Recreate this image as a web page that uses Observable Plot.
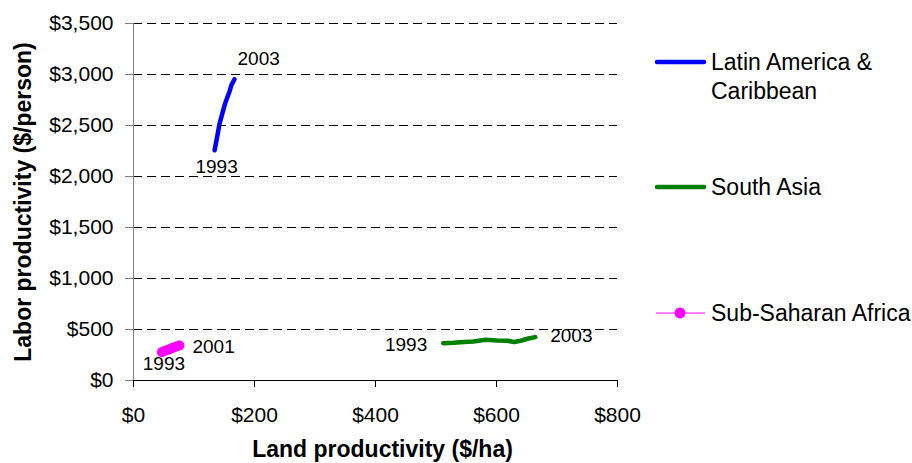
<!DOCTYPE html>
<html>
<head>
<meta charset="utf-8">
<script src="https://cdn.jsdelivr.net/npm/d3@7"></script>
<script src="https://cdn.jsdelivr.net/npm/@observablehq/plot@0.6"></script>
<style>
  body { margin: 0; background: #fff; }
  #wrap { position: relative; width: 912px; height: 463px; font-family: "Liberation Sans", Arial, sans-serif; }
  #legend { position: absolute; left: 0; top: 0; pointer-events: none; }
</style>
</head>
<body>
<div id="wrap"></div>
<script>
// ---- data ----
const seriesNames = ["Latin America & Caribbean", "South Asia", "Sub-Saharan Africa"];
const seriesColors = ["#0000ff", "#008000", "#ff00ff"];

const lacYears = [1993, 1994, 1995, 1996, 1997, 1998, 1999, 2000, 2001, 2002, 2003];
const lacLand  = [134, 137, 140, 142, 145, 148, 151, 155, 159, 162, 167];
const lacLabor = [2257, 2348, 2446, 2512, 2577, 2643, 2708, 2774, 2839, 2898, 2954];

const saYears = [1993, 1994, 1995, 1996, 1997, 1998, 1999, 2000, 2001, 2002, 2003];
const saLand  = [512, 529, 546, 562, 582, 601, 618, 629, 640, 651, 664];
const saLabor = [366, 370, 377, 383, 400, 393, 390, 377, 390, 409, 425];

const ssaYears = [1993, 1994, 1995, 1996, 1997, 1998, 1999, 2000, 2001];
const ssaLand  = [47, 50, 54, 57, 61, 64, 68, 72, 76];
const ssaLabor = [278, 286, 294, 301, 309, 318, 327, 336, 344];

const xTicks = [0, 200, 400, 600, 800];
const yTicks = [0, 500, 1000, 1500, 2000, 2500, 3000, 3500];
const xTitle = "Land productivity ($/ha)";
const yTitle = "Labor productivity ($/person)";

// ---- build tables ----
const toRows = (name, years, xs, ys) => years.map((yr, i) => ({series: name, year: yr, land: xs[i], labor: ys[i]}));
const lac = toRows(seriesNames[0], lacYears, lacLand, lacLabor);
const sa  = toRows(seriesNames[1], saYears, saLand, saLabor);
const ssa = toRows(seriesNames[2], ssaYears, ssaLand, ssaLabor);
const first = a => [a[0]];
const last = a => [a[a.length - 1]];

const money = d => "$" + d3.format(",")(d);
const FONT = "Liberation Sans, Arial, sans-serif";

const chart = Plot.plot({
  width: 912,
  height: 463,
  marginLeft: 133,
  marginRight: 295,
  marginTop: 23,
  marginBottom: 83,
  style: { fontFamily: FONT, fontSize: "21px", background: "#fff", color: "#000", overflow: "visible" },
  x: { domain: [0, 800] },
  y: { domain: [0, 3500] },
  marks: [
    Plot.gridY(yTicks.filter(d => d > 0), { stroke: "#000", strokeOpacity: 1, strokeDasharray: "9,5" }),
    Plot.axisY(yTicks, { tickSize: 8, tickPadding: 12, tickFormat: money, stroke: "#808080", fill: "#000", fontSize: 21, label: null }),
    Plot.axisX(xTicks, { tickSize: 7, tickPadding: 20, tickFormat: money, stroke: "#000", fill: "#000", fontSize: 21, label: null }),
    Plot.ruleX([0], { stroke: "#808080" }),
    Plot.ruleY([0], { stroke: "#000" }),
    Plot.line(lac, { x: "land", y: "labor", stroke: seriesColors[0], strokeWidth: 4.5, strokeLinecap: "round", strokeLinejoin: "round" }),
    Plot.line(sa, { x: "land", y: "labor", stroke: seriesColors[1], strokeWidth: 4.5, strokeLinecap: "round", strokeLinejoin: "round" }),
    Plot.line(ssa, { x: "land", y: "labor", stroke: seriesColors[2], strokeWidth: 1 }),
    Plot.dot(ssa, { x: "land", y: "labor", r: 5, fill: seriesColors[2], stroke: "none" }),
    // year labels
    Plot.text(first(lac), { x: "land", y: "labor", text: d => String(d.year), dx: 2, dy: 17, fontSize: 19 }),
    Plot.text(last(lac), { x: "land", y: "labor", text: d => String(d.year), textAnchor: "start", dx: 3, dy: -20, fontSize: 19 }),
    Plot.text(first(sa), { x: "land", y: "labor", text: d => String(d.year), textAnchor: "end", dx: -16, dy: 2, fontSize: 19 }),
    Plot.text(last(sa), { x: "land", y: "labor", text: d => String(d.year), textAnchor: "start", dx: 15, dy: -1, fontSize: 19 }),
    Plot.text(first(ssa), { x: "land", y: "labor", text: d => String(d.year), dx: 2, dy: 12, fontSize: 19 }),
    Plot.text(last(ssa), { x: "land", y: "labor", text: d => String(d.year), textAnchor: "start", dx: 13, dy: 1, fontSize: 19 }),
    // axis titles
    Plot.text([xTitle], { frameAnchor: "bottom", textAnchor: "middle", text: d => d, dx: 7, dy: 69, fontSize: 23, fontWeight: "bold", lineAnchor: "middle" }),
    Plot.text([yTitle], { frameAnchor: "left", textAnchor: "middle", text: d => d, dx: -110, rotate: -90, fontSize: 23, fontWeight: "bold", lineAnchor: "middle" })
  ]
});

const wrap = document.getElementById("wrap");
wrap.appendChild(chart);

// ---- legend (to the right of the plot) ----
const legendRows = [
  { name: seriesNames[0], lines: ["Latin America &", "Caribbean"], color: seriesColors[0], kind: "thick", y: 62 },
  { name: seriesNames[1], lines: ["South Asia"], color: seriesColors[1], kind: "thick", y: 187 },
  { name: seriesNames[2], lines: ["Sub-Saharan Africa"], color: seriesColors[2], kind: "marker", y: 313 }
];
const svg = d3.select(wrap).append("svg")
  .attr("id", "legend").attr("width", 912).attr("height", 463)
  .style("font-family", FONT);
for (const r of legendRows) {
  const g = svg.append("g").attr("transform", `translate(0,${r.y})`);
  if (r.kind === "thick") {
    g.append("line").attr("x1", 657).attr("x2", 704).attr("y1", 0).attr("y2", 0)
      .attr("stroke", r.color).attr("stroke-width", 4.5).attr("stroke-linecap", "round");
  } else {
    g.append("line").attr("x1", 656).attr("x2", 705).attr("y1", 0).attr("y2", 0)
      .attr("stroke", r.color).attr("stroke-width", 1);
    g.append("circle").attr("cx", 680).attr("cy", 0).attr("r", 5.5).attr("fill", r.color);
  }
  r.lines.forEach((t, i) => {
    g.append("text").attr("x", 711).attr("y", i * 29).attr("dy", "0.36em")
      .attr("font-size", 23).attr("fill", "#000").text(t);
  });
}
</script>
</body>
</html>
